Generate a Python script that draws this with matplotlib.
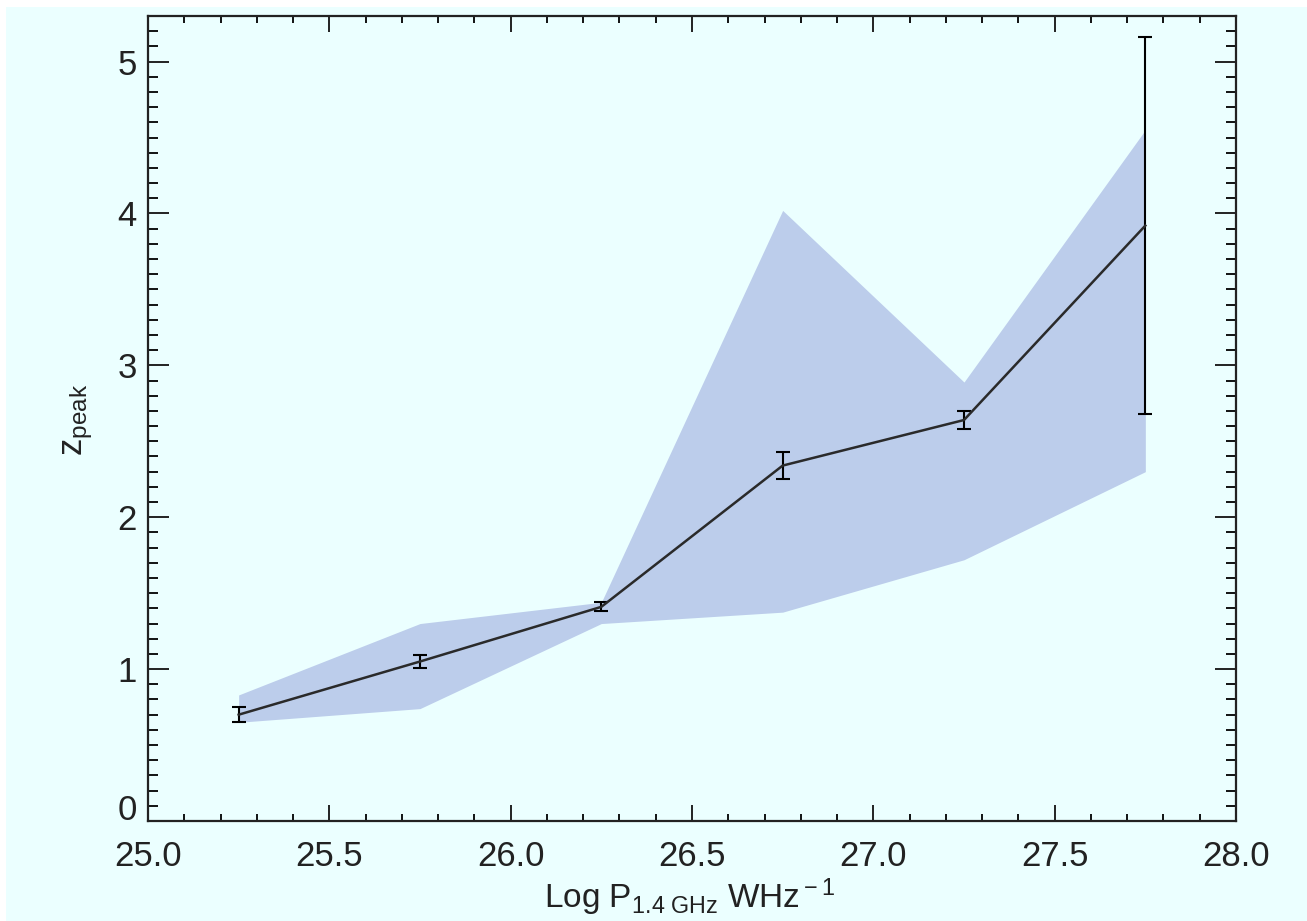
import matplotlib
matplotlib.use("Agg")
import matplotlib.pyplot as plt
import matplotlib.transforms as mtransforms
from matplotlib.ticker import MultipleLocator
from matplotlib.patches import Rectangle

# ---- data ----
log_power = [25.25, 25.75, 26.25, 26.75, 27.25, 27.75]
z_peak = [0.70, 1.05, 1.41, 2.34, 2.64, 3.92]
z_err = [0.05, 0.04, 0.03, 0.09, 0.06, 1.24]
band_upper = [0.83, 1.30, 1.44, 4.02, 2.89, 4.55]
band_lower = [0.65, 0.74, 1.30, 1.375, 1.72, 2.30]
x_ticks = [25.0, 25.5, 26.0, 26.5, 27.0, 27.5, 28.0]
x_ticklabels = ["25.0", "25.5", "26.0", "26.5", "27.0", "27.5", "28.0"]
y_ticks = [0, 1, 2, 3, 4, 5]
y_ticklabels = ["0", "1", "2", "3", "4", "5"]

plt.rcParams['font.family'] = ['Liberation Sans', 'DejaVu Sans']
plt.rcParams['mathtext.fontset'] = 'custom'
plt.rcParams['mathtext.rm'] = 'Liberation Sans'
plt.rcParams['mathtext.it'] = 'Liberation Sans'

bg = '#ebffff'
fig = plt.figure(figsize=(13.07, 9.21), dpi=100, facecolor=bg)
# white margins at top and left as in the reference
fig.patches.append(Rectangle((0, 1 - 7 / 921), 1, 7 / 921, transform=fig.transFigure,
                             facecolor='white', edgecolor='none', zorder=-1))
fig.patches.append(Rectangle((0, 0), 6 / 1307, 1, transform=fig.transFigure,
                             facecolor='white', edgecolor='none', zorder=-1))

ax = fig.add_axes([148 / 1307, 1 - 821 / 921, (1236 - 148) / 1307, (821 - 16) / 921])
ax.set_facecolor(bg)

ax.fill_between(log_power, band_lower, band_upper, color='#bccdeb', linewidth=0, zorder=1)
ax.errorbar(log_power, z_peak, yerr=z_err, color='#2a2a2a', linewidth=1.8,
            ecolor='black', elinewidth=1.5, capsize=5, capthick=1.5, zorder=3)

ax.set_xlim(25.0, 28.0)
ax.set_ylim(0, 5.3)
ax.set_xticks(x_ticks)
ax.set_xticklabels(x_ticklabels)
ax.set_yticks(y_ticks)
ax.set_yticklabels(y_ticklabels)
ax.xaxis.set_minor_locator(MultipleLocator(0.1))
ax.yaxis.set_minor_locator(MultipleLocator(0.1))

for s in ax.spines.values():
    s.set_linewidth(1.6)
    s.set_color('#222222')

ax.tick_params(axis='x', which='major', direction='in', length=11.5, width=1.4,
               top=True, bottom=True, labelsize=25, pad=14, colors='#222222')
ax.tick_params(axis='x', which='minor', direction='in', length=5, width=1.3,
               top=True, bottom=True)
ax.tick_params(axis='y', which='major', direction='in', length=15, width=1.4,
               left=True, right=True, labelsize=25, pad=8, colors='#222222')
ax.tick_params(axis='y', which='minor', direction='in', length=7.5, width=1.3,
               left=True, right=True)

# shift the "0" label up like the reference
lbl0 = ax.get_yticklabels()[0]
lbl0.set_transform(lbl0.get_transform() + mtransforms.ScaledTranslation(0, 14 / 100, fig.dpi_scale_trans))

fig.text(690 / 1307, 1 - 897 / 921, r'Log P$_{\rm 1.4\ GHz}$ WHz$^{\rm -1}$',
         ha='center', va='center', fontsize=24, color='#222222')
fig.text(78 / 1307, 1 - 420 / 921, r'z$_{\rm peak}$', ha='center', va='center',
         rotation=90, fontsize=25, color='#222222')

fig.savefig('out.png', dpi=100, facecolor=bg)
